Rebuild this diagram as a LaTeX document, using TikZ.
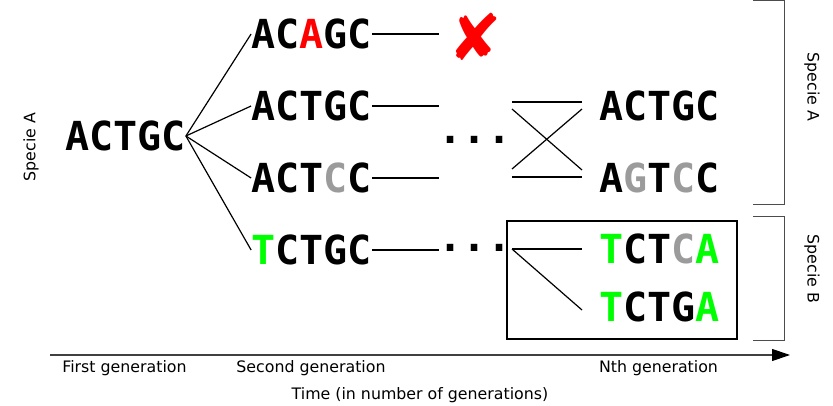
\documentclass[tikz,border=0pt]{standalone}
\usepackage{fontspec}
\setmainfont{DejaVu Sans}
\newfontfamily\seqfont{DejaVu Sans Mono}
\usepackage{tikz}
\usetikzlibrary{arrows.meta}
\definecolor{mutred}{RGB}{255,0,0}
\definecolor{mutgreen}{RGB}{0,255,0}
\definecolor{mutgray}{RGB}{155,155,155}
\newcommand{\mr}[1]{\textcolor{mutred}{#1}}
\newcommand{\mg}[1]{\textcolor{mutgreen}{#1}}
\newcommand{\mgr}[1]{\textcolor{mutgray}{#1}}
\tikzset{
  seq/.style={font=\seqfont\bfseries\fontsize{40}{40}\selectfont, inner sep=0pt},
  lbl/.style={font=\fontsize{15.8}{18}\selectfont, inner sep=0pt},
  branch/.style={line width=1.2pt},
  bracket/.style={line width=1pt, color=black!70}
}
\begin{document}
\begin{tikzpicture}[x=1pt, y=-1pt]
            \useasboundingbox (0,0) rectangle (833,406);
            % first and second generation
            \node[seq] (anc) at (125.5,136) {ACTGC};
            \node[seq] (ga) at (311.5,34) {AC\mr{A}GC};
            \node[seq] (gb) at (311.5,106) {ACTGC};
            \node[seq] (gc) at (311.5,178) {ACT\mgr{C}C};
            \node[seq] (gd) at (311.5,250) {\mg{T}CTGC};
            \foreach \g in {ga,gb,gc,gd}
              \draw[branch] (anc.east) -- (\g.west);
            \node[text=mutred, font=\fontsize{64}{64}\selectfont, inner sep=0pt] (dead) at (475,37) {✘};
            \node[seq, anchor=base] (dotsa) at (475,144) {...};
            \node[seq, anchor=base] (dotsb) at (475,252) {...};
            \draw[branch] (ga.east) -- (ga.east -| dotsa.west);
            \draw[branch] (gb.east) -- (gb.east -| dotsa.west);
            \draw[branch] (gc.east) -- (gc.east -| dotsa.west);
            \draw[branch] (gd.east) -- (gd.east -| dotsb.west);
            % nth generation
            \node[seq] (na) at (659.5,106) {ACTGC};
            \node[seq] (nb) at (659.5,178) {A\mgr{G}T\mgr{C}C};
            \node[seq] (nc) at (659.5,249) {\mg{T}CT\mgr{C}\mg{A}};
            \node[seq] (nd) at (659.5,307) {\mg{T}CTG\mg{A}};
            \coordinate (ua) at (512,102);
            \coordinate (va) at (582,102);
            \coordinate (ub) at (512,177);
            \coordinate (vb) at (582,177);
            \coordinate (uc) at (512,249);
            \coordinate (vc) at (582,249);
            \coordinate (vd) at (582,310);
            \draw[branch] (ua) -- (va);
            \draw[branch] (ub) -- (vb);
            \draw[branch] ([yshift=-7pt]ua) -- ([yshift=7pt]vb);
            \draw[branch] ([yshift=8pt]ub) -- ([yshift=-7pt]va);
            \draw[branch] (uc) -- (vc);
            \draw[branch] (uc) -- (vd);
            \draw[line width=1.5pt] (507,221) rectangle (737,339);
            % species
            \draw[bracket] (753,1) -- (784,1) -- (784,205) -- (753,205);
            \draw[bracket] (753,217) -- (784,217) -- (784,340) -- (753,340);
            \node[lbl, rotate=90] (spl) at (31,147) {Specie A};
            \node[lbl, rotate=-90] (spa) at (812,87) {Specie A};
            \node[lbl, rotate=-90] (spb) at (812,269) {Specie B};
            % time axis
            \coordinate (t0) at (50,355);
            \coordinate (t1) at (790,355);
            \draw[line width=1.2pt, color=black!75, -{Triangle[length=18pt,width=12pt,fill=black,color=black]}] (t0) -- (t1);
            \node[lbl, anchor=base] (first) at (124.5,372) {First generation};
            \node[lbl, anchor=base] (second) at (311,372) {Second generation};
            \node[lbl, anchor=base] (nth) at (658.5,372) {Nth generation};
            \node[lbl, anchor=base] (time) at (420,399) {Time (in number of generations)};
        \end{tikzpicture}
\end{document}
